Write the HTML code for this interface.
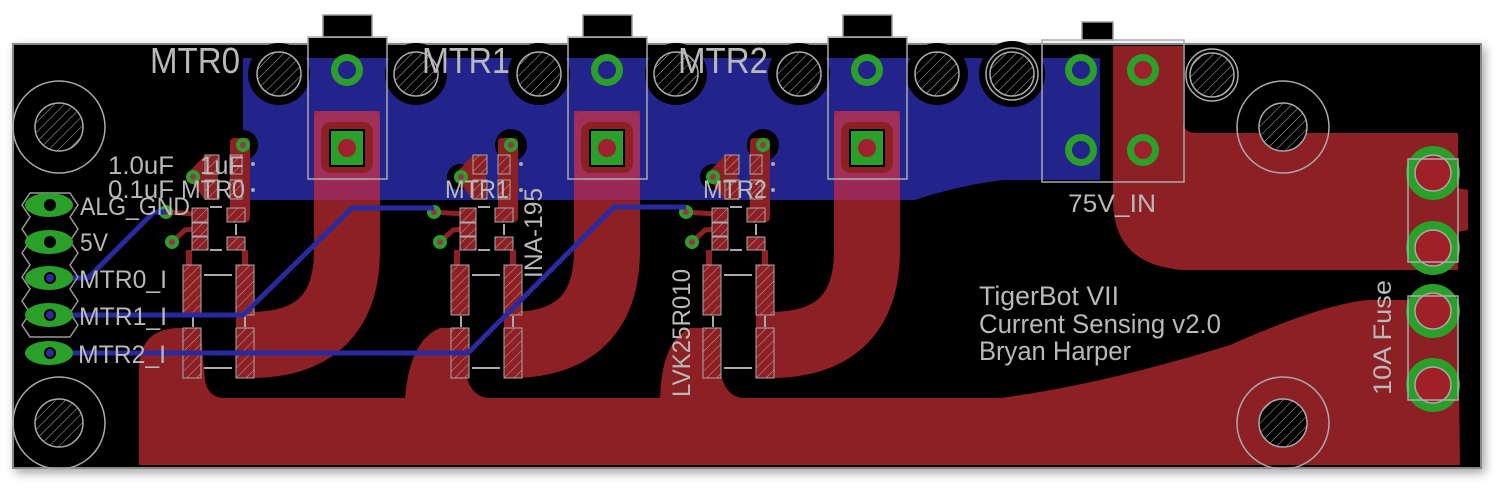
<!DOCTYPE html>
<html><head><meta charset="utf-8"><style>
html,body{margin:0;padding:0;background:#fff;width:1503px;height:492px;overflow:hidden}
svg{display:block}
text{font-family:"Liberation Sans",sans-serif;fill:#b9b9b9}
</style></head><body>
<svg width="1503" height="492" viewBox="0 0 1503 492" xmlns="http://www.w3.org/2000/svg">
<defs>
<pattern id="h" width="7" height="7" patternUnits="userSpaceOnUse" patternTransform="rotate(45)">
<rect width="7" height="7" fill="#000"/><line x1="0" y1="0" x2="0" y2="7" stroke="#b0b0b0" stroke-width="1"/></pattern>
<pattern id="rh" width="7" height="7" patternUnits="userSpaceOnUse" patternTransform="rotate(45)">
<rect width="7" height="7" fill="#8c2024"/><line x1="0" y1="0" x2="0" y2="7" stroke="#c8a0a0" stroke-width="1"/></pattern>
<filter id="sh" x="-5%" y="-10%" width="110%" height="130%"><feDropShadow dx="3" dy="4" stdDeviation="5" flood-color="#000" flood-opacity="0.35"/></filter>
<g id="comp">
  <rect x="230" y="138" width="20" height="84" rx="4" fill="#8c2024"/>
  <polygon points="186,175 205,155 218,155 218,200 205,200" fill="#8c2024"/>
  <path d="M166,212 L195,214 M172,242 L185,230 L195,229" stroke="#8c2024" stroke-width="5" fill="none"/>
  <path d="M189,250 L189,268 M245,250 L245,268" stroke="#8c2024" stroke-width="6" fill="none"/>
  <g fill="url(#rh)" stroke="#aaa" stroke-width="1">
  <rect x="205" y="155" width="14" height="19"/><rect x="205" y="180" width="14" height="19"/>
  <rect x="230" y="155" width="12" height="19"/><rect x="230" y="180" width="12" height="19"/>
  <rect x="192" y="208" width="16" height="14"/><rect x="192" y="223" width="16" height="13"/><rect x="192" y="237" width="16" height="13"/>
  <rect x="227" y="208" width="18" height="14"/><rect x="227" y="237" width="18" height="13"/>
  <rect x="183" y="265" width="18" height="50"/><rect x="236" y="265" width="18" height="50"/>
  <rect x="183" y="328" width="18" height="50"/><rect x="236" y="328" width="18" height="50"/>
  </g>
  <path d="M210,207 L222,207 M210,250 L222,250 M236,224 L236,235 M204,275 L232,275 M204,368 L232,368 M193,316 L193,327 M245,316 L245,327" stroke="#aaa" stroke-width="2"/>
  <g fill="#2aa02a">
  <circle cx="243" cy="145" r="7"/><circle cx="193" cy="177" r="7"/><circle cx="166" cy="212" r="7"/><circle cx="172" cy="242" r="7"/></g>
  <g fill="#a03050">
  <circle cx="243" cy="145" r="3"/><circle cx="193" cy="177" r="3"/><circle cx="166" cy="212" r="3"/><circle cx="172" cy="242" r="3"/></g>
  <circle cx="253" cy="164" r="2" fill="#aaa"/><circle cx="253" cy="190" r="2" fill="#aaa"/>
</g>
<g id="conn">
  <rect x="323" y="15" width="49" height="23" fill="#000" stroke="#999" stroke-width="1.5"/>
  <rect x="308" y="38" width="79" height="10" fill="#000"/>
  <rect x="314" y="111" width="66" height="70" rx="10" fill="#a0305a"/>
  <rect x="321" y="122" width="52" height="51" rx="10" fill="#8c2024"/>
  <rect x="330" y="130" width="34" height="36" fill="#2aa02a" stroke="#000" stroke-width="2"/>
  <circle cx="347" cy="148" r="9" fill="#a02030"/>
  <circle cx="347" cy="70" r="16" fill="#2aa02a"/>
  <circle cx="347" cy="70" r="9" fill="#23238c"/>
  <rect x="308" y="37" width="79" height="142" fill="none" stroke="#aaa" stroke-width="1.5"/>
</g>
</defs>

<rect x="13" y="44" width="1468" height="424" fill="#000" stroke="#888" stroke-width="2" filter="url(#sh)"/>

<path d="M243,58 L1100,58 L1100,180 L1004,180 Q960,185 915,200 L250,200 L250,185 L243,160 Z" fill="#23238c"/>
<g fill="#000">
<circle cx="279" cy="74" r="31"/><circle cx="416" cy="74" r="31"/><circle cx="539" cy="74" r="31"/><circle cx="676" cy="74" r="31"/>
<circle cx="799" cy="74" r="31"/><circle cx="937" cy="74" r="31"/><circle cx="1012" cy="74" r="33"/>
<circle cx="243" cy="145" r="15"/><circle cx="511" cy="145" r="16"/><circle cx="763" cy="145" r="16"/>
<circle cx="460" cy="177" r="13"/><circle cx="713" cy="177" r="13"/>
</g>

<path d="M139,465 L139,370 Q139,328 180,328 L190,328 Q202,330 202,345 L205,380 Q208,398 225,398
 L405,398 Q410,340 440,328 L460,328 L465,370 Q470,398 490,398
 L660,398 Q662,340 690,328 L715,328 L720,370 Q725,398 745,398
 L1000,398 Q1100,385 1230,345 Q1320,305 1367,300 L1458,300 L1460,465 Z" fill="#8c2024"/>
<path d="M1113,46 L1183,46 L1183,120 Q1183,133 1196,133 L1458,133 L1458,188 L1468,190 L1468,230 L1458,232 L1458,270 L1183,270 Q1113,265 1113,200 Z" fill="#8c2024"/>

<g fill="none" stroke="#8c2024" stroke-width="66">
<path d="M347,150 L347,250 Q347,345 250,345 L236,345"/>
<path d="M607,150 L607,250 Q607,345 510,345 L504,345"/>
<path d="M867,150 L867,250 Q867,345 770,345 L756,345"/>
</g>
<g fill="#9a2a55">
<rect x="314" y="111" width="66" height="89"/><rect x="574" y="111" width="66" height="89"/><rect x="834" y="111" width="66" height="89"/>
</g>

<use href="#conn"/>
<use href="#conn" x="260"/>
<use href="#conn" x="520"/>

<rect x="1082" y="22" width="31" height="18" fill="#000" stroke="#999" stroke-width="1.5"/>
<g fill="#2aa02a">
<circle cx="1081" cy="70" r="16"/><circle cx="1081" cy="150" r="16"/><circle cx="1143" cy="70" r="16"/><circle cx="1143" cy="150" r="16"/></g>
<g><circle cx="1081" cy="70" r="9" fill="#23238c"/><circle cx="1081" cy="150" r="9" fill="#23238c"/>
<circle cx="1143" cy="70" r="9" fill="#a02030"/><circle cx="1143" cy="150" r="9" fill="#a02030"/></g>
<rect x="1042" y="40" width="142" height="142" fill="none" stroke="#aaa" stroke-width="1.5"/>

<g fill="url(#h)" stroke="#aaa" stroke-width="1.5">
<circle cx="279" cy="74" r="22"/><circle cx="416" cy="74" r="22"/><circle cx="539" cy="74" r="22"/><circle cx="676" cy="74" r="22"/>
<circle cx="799" cy="74" r="22"/><circle cx="937" cy="74" r="22"/><circle cx="1012" cy="74" r="22"/><circle cx="1212" cy="75" r="22"/>
<circle cx="59" cy="127" r="24"/><circle cx="59" cy="423" r="24"/><circle cx="1283" cy="127" r="24"/><circle cx="1283" cy="423" r="24"/>
</g>
<g fill="none" stroke="#aaa" stroke-width="1.5">
<circle cx="1012" cy="74" r="26"/><circle cx="1212" cy="75" r="26"/>
<circle cx="59" cy="127" r="46"/><circle cx="59" cy="423" r="46"/><circle cx="1283" cy="127" r="46"/><circle cx="1283" cy="423" r="46"/>
</g>

<use href="#comp"/>
<use href="#comp" x="268"/>
<use href="#comp" x="520"/>

<g fill="none" stroke="#2a2aa0" stroke-width="5" stroke-linejoin="round">
<path d="M50,278 L88,278 L154,212 L166,212"/>
<path d="M50,315 L243,315 L352,208 L434,208"/>
<path d="M50,353 L468,353 L614,207 L686,207"/>
</g>

<g>
<path d="M30,193 h40 l8,12 l-8,12 l8,12 l-8,12 l8,12 l-8,12 l8,12 l-8,12 l8,12 l-8,12 l8,12 l-8,12 h-40 l-8,-12 l8,-12 l-8,-12 l8,-12 l-8,-12 l8,-12 l-8,-12 l8,-12 l-8,-12 l8,-12 l-8,-12 z" fill="none" stroke="#999" stroke-width="1.5"/>
<g fill="#2aa02a"><ellipse cx="49" cy="205" rx="24" ry="12"/><ellipse cx="49" cy="242" rx="24" ry="12"/><ellipse cx="49" cy="278" rx="24" ry="12"/><ellipse cx="49" cy="315" rx="24" ry="12"/><ellipse cx="49" cy="353" rx="24" ry="12"/></g>
<g fill="#000"><circle cx="50" cy="205" r="6"/><circle cx="50" cy="242" r="6"/><circle cx="50" cy="278" r="6"/><circle cx="50" cy="315" r="6"/><circle cx="50" cy="353" r="6"/></g>
<g fill="#2a2aa0"><circle cx="50" cy="278" r="4"/><circle cx="50" cy="315" r="4"/><circle cx="50" cy="353" r="4"/></g>
</g>

<g fill="#2aa02a">
<circle cx="1433" cy="173" r="27"/><circle cx="1433" cy="248" r="27"/><circle cx="1433" cy="311" r="27"/><circle cx="1433" cy="385" r="27"/></g>
<g fill="#a02028">
<circle cx="1433" cy="173" r="18"/><circle cx="1433" cy="248" r="18"/><circle cx="1433" cy="311" r="18"/><circle cx="1433" cy="385" r="18"/></g>
<g fill="none" stroke="#aaa" stroke-width="1.5">
<circle cx="1433" cy="173" r="18"/><circle cx="1433" cy="248" r="18"/><circle cx="1433" cy="311" r="18"/><circle cx="1433" cy="385" r="18"/>
<rect x="1408" y="159" width="50" height="103"/><rect x="1408" y="296" width="50" height="104"/></g>

<g font-size="36">
<text x="150" y="73" textLength="90" lengthAdjust="spacingAndGlyphs">MTR0</text>
<text x="422" y="73" textLength="88" lengthAdjust="spacingAndGlyphs">MTR1</text>
<text x="678" y="73" textLength="90" lengthAdjust="spacingAndGlyphs">MTR2</text>
</g>
<g font-size="25">
<text x="80" y="215" textLength="110" lengthAdjust="spacingAndGlyphs">ALG_GND</text>
<text x="80" y="251" textLength="28" lengthAdjust="spacingAndGlyphs">5V</text>
<text x="79" y="288" textLength="88" lengthAdjust="spacingAndGlyphs">MTR0_I</text>
<text x="79" y="325" textLength="88" lengthAdjust="spacingAndGlyphs">MTR1_I</text>
<text x="78" y="363" textLength="88" lengthAdjust="spacingAndGlyphs">MTR2_I</text>
<text x="108" y="174" textLength="66" lengthAdjust="spacingAndGlyphs">1.0uF</text>
<text x="200" y="174" textLength="44" lengthAdjust="spacingAndGlyphs">1uF</text>
<text x="108" y="198" textLength="66" lengthAdjust="spacingAndGlyphs">0.1uF</text>
<text x="181" y="198" textLength="64" lengthAdjust="spacingAndGlyphs">MTR0</text>
<text x="445" y="198" textLength="64" lengthAdjust="spacingAndGlyphs">MTR1</text>
<text x="703" y="198" textLength="64" lengthAdjust="spacingAndGlyphs">MTR2</text>
<text x="1068" y="212" textLength="88" lengthAdjust="spacingAndGlyphs">75V_IN</text>
<text transform="translate(542,278) rotate(-90)" textLength="90" lengthAdjust="spacingAndGlyphs">INA-195</text>
<text transform="translate(690,397) rotate(-90)" textLength="128" lengthAdjust="spacingAndGlyphs">LVK25R010</text>
<text transform="translate(1391,395) rotate(-90)" textLength="115" lengthAdjust="spacingAndGlyphs">10A Fuse</text>
</g>
<g font-size="27" style="fill:#c4c4c4">
<text x="979" y="305" textLength="140" lengthAdjust="spacingAndGlyphs">TigerBot VII</text>
<text x="979" y="333" textLength="242" lengthAdjust="spacingAndGlyphs">Current Sensing v2.0</text>
<text x="979" y="360" textLength="152" lengthAdjust="spacingAndGlyphs">Bryan Harper</text>
</g>
</svg>
</body></html>
